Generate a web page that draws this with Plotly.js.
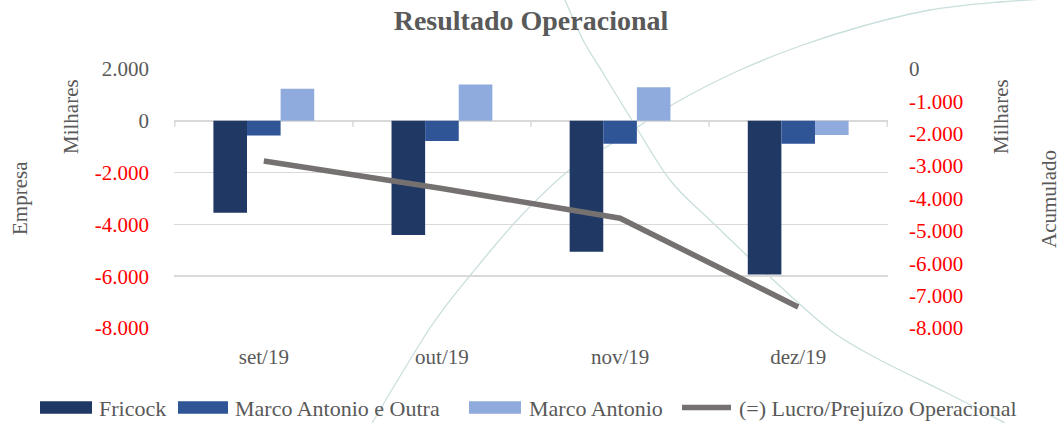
<!DOCTYPE html>
<html>
<head>
<meta charset="utf-8">
<script src="https://cdn.plot.ly/plotly-3.0.1.min.js"></script>
<style>
  html, body { margin: 0; padding: 0; background: #ffffff; }
  #chart { width: 1062px; height: 423px; }
</style>
</head>
<body>
<div id="chart"></div>
<script>
// ---- data (values in thousands) ----
var categories = ['set/19', 'out/19', 'nov/19', 'dez/19'];
var seriesNames = ['Fricock', 'Marco Antonio e Outra', 'Marco Antonio', '(=) Lucro/Prejuízo Operacional'];
var fricock = [-3550, -4410, -5060, -5930];
var marcoAntonioOutra = [-570, -780, -885, -890];
var marcoAntonio = [1240, 1405, 1300, -550];
var lucroPrejuizo = [-2840, -3690, -4610, -7350];
var leftTicks = [2000, 0, -2000, -4000, -6000, -8000];
var rightTicks = [0, -1000, -2000, -3000, -4000, -5000, -6000, -7000, -8000];

var colors = ['#203864', '#2F5597', '#8FAADC', '#767171'];
var FONT = '"Liberation Serif", "Times New Roman", serif';
var GRAY = '#595959';
var RED = '#FF0000';

function fmt(v) {
  var neg = v < 0; var s = String(Math.abs(v));
  s = s.replace(/\B(?=(\d{3})+(?!\d))/g, '.');
  return (neg ? '-' : '') + s;
}
function tickText(vals) {
  return vals.map(function (v) {
    return v < 0 ? '<span style="color:' + RED + '">' + fmt(v) + '</span>' : fmt(v);
  });
}

// ---- geometry of the page ----
var W = 1062, H = 423;
var M = { l: 174, r: 174, t: 69, b: 95 };
var PW = W - M.l - M.r, PH = H - M.t - M.b;
function px(x) { return (x - M.l) / PW; }
function py(y) { return (H - M.b - y) / PH; }

// smooth decorative path through pixel points (Catmull-Rom -> cubic Bezier), paper coords
function smoothPath(pts) {
  var p = pts.map(function (a) { return [px(a[0]), py(a[1])]; });
  var d = 'M' + p[0][0].toFixed(5) + ',' + p[0][1].toFixed(5);
  for (var i = 0; i < p.length - 1; i++) {
    var p0 = p[i - 1] || p[i], p1 = p[i], p2 = p[i + 1], p3 = p[i + 2] || p2;
    var c1 = [p1[0] + (p2[0] - p0[0]) / 6, p1[1] + (p2[1] - p0[1]) / 6];
    var c2 = [p2[0] - (p3[0] - p1[0]) / 6, p2[1] - (p3[1] - p1[1]) / 6];
    d += ' C' + c1[0].toFixed(5) + ',' + c1[1].toFixed(5) + ' ' + c2[0].toFixed(5) + ',' + c2[1].toFixed(5) +
         ' ' + p2[0].toFixed(5) + ',' + p2[1].toFixed(5);
  }
  return d;
}

var decoA = [[372, 423], [430, 328], [473, 272], [520, 217], [573, 167], [613, 143], [677, 102], [740, 70], [800, 46], [863, 26], [930, 10], [1000, 2], [1062, -2]];
var decoB = [[565, 0], [583, 40], [603, 73], [630, 117], [670, 180], [712, 222], [770, 277], [830, 330], [880, 360], [947, 393], [1005, 423]];

var shapes = [
  { type: 'path', xref: 'paper', yref: 'paper', path: smoothPath(decoA), layer: 'below', line: { color: '#C9DFDD', width: 1.3 } },
  { type: 'path', xref: 'paper', yref: 'paper', path: smoothPath(decoB), layer: 'below', line: { color: '#C9DFDD', width: 1.3 } }
];
// small category tick marks hanging below the zero line
for (var k = 0; k <= categories.length; k++) {
  shapes.push({ type: 'line', xref: 'x', yref: 'y', x0: k - 0.5, x1: k - 0.5,
    ysizemode: 'pixel', yanchor: 0, y0: 0, y1: -6, line: { color: '#D9D9D9', width: 1.5 } });
}

// ---- custom legend (wide swatches like the original) ----
var legendY = 407.5;
var legendItems = [
  { sym: [40, 92], text: 97, kind: 'bar' },
  { sym: [178, 228], text: 233, kind: 'bar' },
  { sym: [469, 521], text: 527, kind: 'bar' },
  { sym: [680, 733], text: 737, kind: 'line' }
];
var annotations = [];
legendItems.forEach(function (it, i) {
  if (it.kind === 'bar') {
    shapes.push({ type: 'rect', xref: 'paper', yref: 'paper', x0: px(it.sym[0]), x1: px(it.sym[1]),
      y0: py(legendY + 6.3), y1: py(legendY - 6.3), fillcolor: colors[i], line: { width: 0 } });
  } else {
    shapes.push({ type: 'line', xref: 'paper', yref: 'paper', x0: px(it.sym[0] + 2), x1: px(it.sym[1] - 2),
      y0: py(legendY), y1: py(legendY), line: { color: colors[i], width: 5.5 } });
  }
  annotations.push({ xref: 'paper', yref: 'paper', x: px(it.text), y: py(legendY + 1), xanchor: 'left', yanchor: 'middle',
    text: seriesNames[i], showarrow: false, font: { family: FONT, size: 22, color: GRAY } });
});

// axis titles
function vTitle(text, x, y) {
  return { xref: 'paper', yref: 'paper', x: px(x), y: py(y), xanchor: 'center', yanchor: 'middle',
    text: text, textangle: -90, showarrow: false, font: { family: FONT, size: 21, color: GRAY } };
}
annotations.push(vTitle('Empresa', 20, 198));
annotations.push(vTitle('Milhares', 71, 117));
annotations.push(vTitle('Milhares', 1001, 117));
annotations.push(vTitle('Acumulado', 1049, 199));

var data = [
  { type: 'bar', name: seriesNames[0], x: categories, y: fricock, marker: { color: colors[0] }, yaxis: 'y', hoverinfo: 'x+y' },
  { type: 'bar', name: seriesNames[1], x: categories, y: marcoAntonioOutra, marker: { color: colors[1] }, yaxis: 'y', hoverinfo: 'x+y' },
  { type: 'bar', name: seriesNames[2], x: categories, y: marcoAntonio, marker: { color: colors[2] }, yaxis: 'y', hoverinfo: 'x+y' },
  { type: 'scatter', mode: 'lines', name: seriesNames[3], x: categories, y: lucroPrejuizo, yaxis: 'y2',
    line: { color: colors[3], width: 5.5 }, hoverinfo: 'x+y' }
];

var layout = {
  width: W, height: H,
  margin: M,
  paper_bgcolor: '#ffffff', plot_bgcolor: 'rgba(0,0,0,0)',
  showlegend: false,
  barmode: 'group', bargap: 0.434, bargroupgap: 0,
  font: { family: FONT, color: GRAY },
  title: { text: '<b>Resultado Operacional</b>', x: 0.5, xanchor: 'center', y: 1 - 20 / H, yanchor: 'middle',
    font: { family: FONT, size: 28, color: GRAY } },
  xaxis: { type: 'category', showgrid: false, showline: false, zeroline: false, ticks: '',
    tickfont: { family: FONT, size: 21, color: GRAY }, ticklabelstandoff: 14, fixedrange: true },
  yaxis: { range: [-8000, 2000], tickmode: 'array', tickvals: leftTicks, ticktext: tickText(leftTicks),
    showgrid: true, gridcolor: '#D9D9D9', gridwidth: 1.5, zeroline: false, showline: false, ticks: '',
    tickfont: { family: FONT, size: 21, color: GRAY }, ticklabelstandoff: 24, fixedrange: true },
  yaxis2: { overlaying: 'y', side: 'right', range: [-8000, 0], tickmode: 'array', tickvals: rightTicks,
    ticktext: tickText(rightTicks), showgrid: false, zeroline: false, showline: false, ticks: '',
    tickfont: { family: FONT, size: 21, color: GRAY }, ticklabelstandoff: 20, fixedrange: true },
  shapes: shapes,
  annotations: annotations
};

Plotly.newPlot('chart', data, layout, { displayModeBar: false, staticPlot: true });
</script>
</body>
</html>
